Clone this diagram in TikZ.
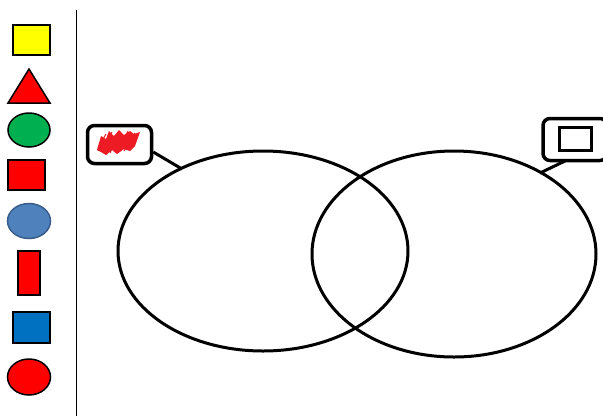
\documentclass[tikz,border=0pt]{standalone}
\usepackage{xcolor}
\definecolor{shapeyellow}{RGB}{255,255,0}
\definecolor{shapered}{RGB}{255,0,0}
\definecolor{shapegreen}{RGB}{0,176,80}
\definecolor{shapeblue}{RGB}{79,129,189}
\definecolor{shapeblueedge}{RGB}{56,93,138}
\definecolor{shapedeep}{RGB}{0,112,192}
\definecolor{scribble}{RGB}{237,28,36}

\begin{document}
\begin{tikzpicture}[x=1pt,y=1pt,yscale=-1,xscale=1,
  piece/.style={draw=black,line width=1.5pt},
  callout/.style={draw=black,line width=3.5pt,rounded corners=7pt,fill=white,inner sep=0pt},
  ring/.style={draw=black,line width=3pt}]
\useasboundingbox (0,0) rectangle (603,416);

%Straight Lines [id:divider]
\draw [line width=0.9pt]  (76.5,10) -- (76.5,416) ;

%Shape: Square yellow
\draw [piece,fill=shapeyellow]  (13,25) rectangle (50,55) ;
%Shape: Triangle
\draw [piece,fill=shapered]  (29,69) -- (50,103) -- (8,103) -- cycle ;
%Shape: Ellipse green
\draw [piece,fill=shapegreen]  (29,130) ellipse (21 and 17) ;
%Shape: Square red
\draw [piece,fill=shapered]  (8,160) rectangle (45,190) ;
%Shape: Ellipse blue
\draw [line width=1.5pt,draw=shapeblueedge,fill=shapeblue]  (29,221) ellipse (21.5 and 17.5) ;
%Shape: Rectangle red
\draw [piece,fill=shapered]  (18,251) rectangle (40,295) ;
%Shape: Square blue
\draw [piece,fill=shapedeep]  (13,312) rectangle (50,343) ;
%Shape: Ellipse red
\draw [piece,fill=shapered]  (29,377) ellipse (21.5 and 18) ;

%Shape: Ellipse left
\draw [ring]  (263,251) ellipse (145 and 100) ;
%Shape: Ellipse right
\draw [ring]  (454,254) ellipse (142 and 103) ;

% Callouts
\coordinate (leftfoot) at (182,169) ;
\coordinate (rightfoot) at (540,173) ;
\node [callout,minimum width=64pt,minimum height=38pt] (redlabel) at (119.5,144.5) {} ;
\node [callout,minimum width=64pt,minimum height=42pt] (boxlabel) at (575,139.5) {} ;
\draw [line width=3pt]  (redlabel.east |- 0,152) -- (leftfoot) ;
\draw [line width=3pt]  (565,161) -- (rightfoot) ;

%Shape: Scribble
\fill [scribble]  (97,150) -- (101,136) -- (106,139) -- (109,131) -- (114,136) -- (119,130) -- (124,135) -- (130,131) -- (134,134) -- (140,132) -- (135,146) -- (130,151) -- (124,149) -- (117,154) -- (112,150) -- (106,155) -- (101,152) -- cycle ;
\draw [scribble,line width=1pt]  (98,148) -- (106,134) (103,152) -- (112,132) (110,153) -- (120,131) (117,153) -- (128,131) (124,151) -- (135,133) ;

%Shape: Inner square
\draw [line width=3pt]  (559,127) rectangle (591,150) ;

\end{tikzpicture}
\end{document}
